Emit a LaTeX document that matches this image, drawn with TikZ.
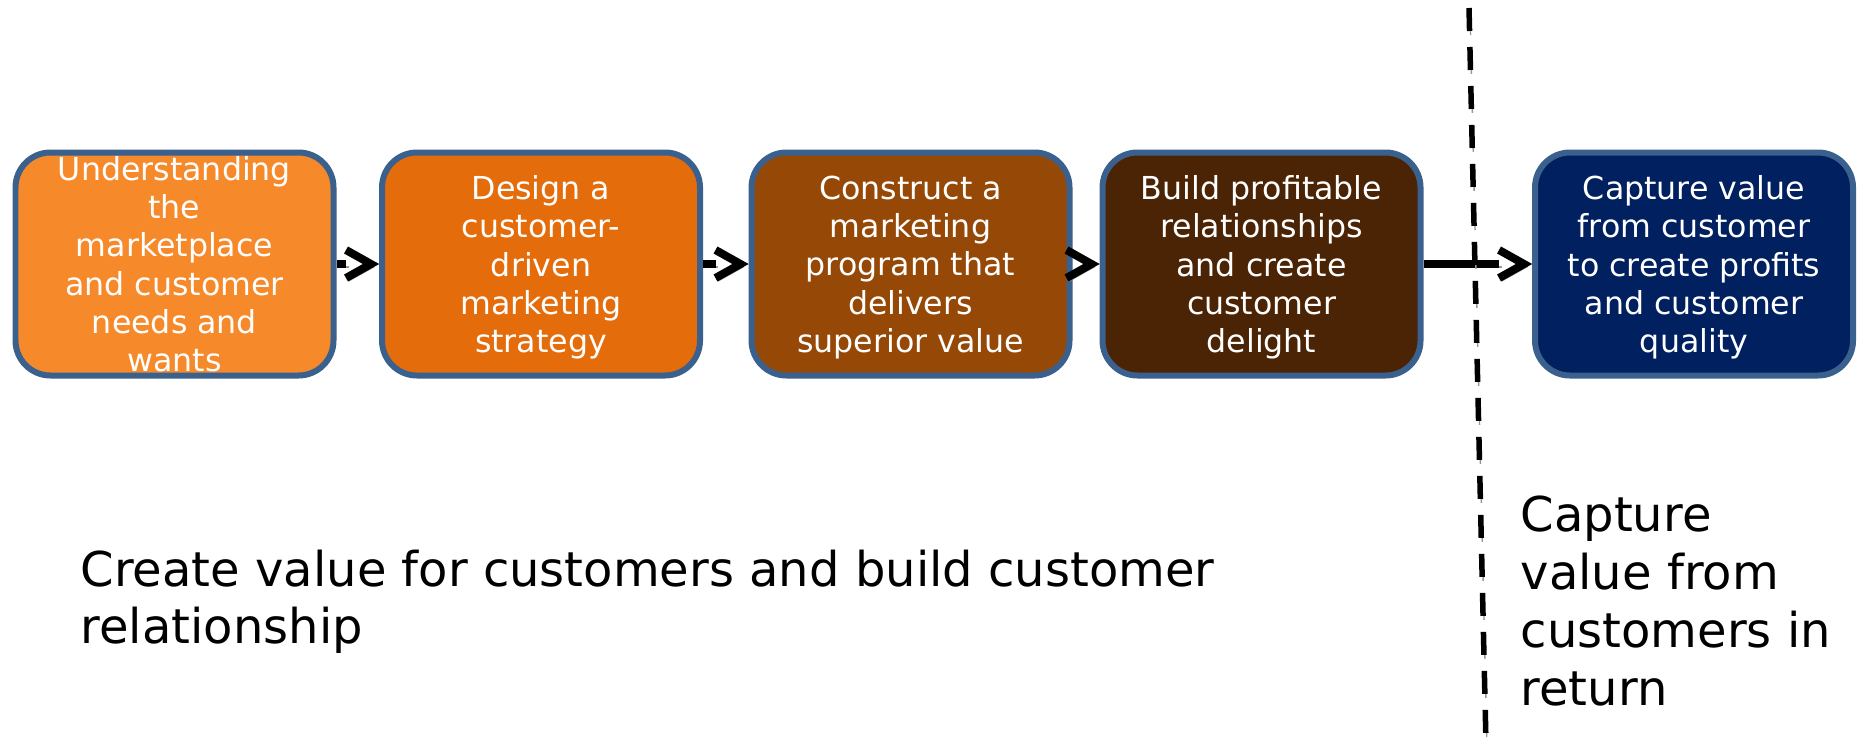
\documentclass[tikz,border=0pt]{standalone}
\usepackage{fontspec}
\setmainfont{DejaVu Sans}
\usepackage{xcolor}
\usepackage{tikz}
\usetikzlibrary{arrows.meta, positioning}
\definecolor{understand}{RGB}{246,137,42}
\definecolor{design}{RGB}{228,108,10}
\definecolor{construct}{RGB}{150,72,6}
\definecolor{build}{RGB}{75,35,5}
\definecolor{capture}{RGB}{0,32,96}
\definecolor{frame}{RGB}{58,96,142}
\definecolor{shadow}{RGB}{150,150,150}

\begin{document}
\begin{tikzpicture}[
    stepbox/.style={rectangle, rounded corners=0.35cm, minimum width=3.18cm, minimum height=2.23cm, text centered, draw=frame, line width=0.06cm, align=center, text=white, inner sep=0pt, text depth=0pt, font=\fontsize{9}{10.9}\selectfont},
    caption/.style={anchor=north west, inner sep=0pt, align=left, font=\fontsize{13.66}{16.2}\selectfont},
    shade/.style={preaction={draw=shadow, transform canvas={xshift=0.025cm, yshift=-0.03cm}}},
    shaft/.style={shade, line width=0.08cm},
    chev/.style={shade, line width=0.08cm, miter limit=4},
    cut/.style={preaction={draw=shadow, dash pattern=on 0.23cm off 0.16cm, transform canvas={xshift=0.01cm, yshift=-0.04cm}}, line width=0.055cm, dash pattern=on 0.23cm off 0.16cm}
]
    \useasboundingbox (0,0) rectangle (18.6,7.44);

    % Process boxes
    \node[stepbox, fill=understand] (market) at (1.745,4.80) {Understanding\\the\\marketplace\\and customer\\needs and\\wants};
    \node[stepbox, fill=design] (strategy) at (5.41,4.80) {Design a\\customer-\\driven\\marketing\\strategy};
    \node[stepbox, fill=construct] (program) at (9.105,4.80) {Construct a\\marketing\\program that\\delivers\\superior value};
    \node[stepbox, fill=build] (relations) at (12.615,4.80) {Build profitable\\relationships\\and create\\customer\\delight};
    \node[stepbox, fill=capture] (profits) at (16.94,4.80) {Capture value\\from customer\\to create profits\\and customer\\quality};

    % Captions
    \node[caption] (create) at (0.80,1.945) {Create value for customers and build customer\\relationship};
    \node[caption, font=\fontsize{13.66}{16.5}\selectfont] (return) at (15.20,2.49) {Capture\\value from\\customers in\\return};

    % Connections
    \draw[shaft] (market.east) -- ([xshift=-0.33cm]strategy.west);
    \draw[shaft] (strategy.east) -- ([xshift=-0.33cm]program.west);
    \draw[shaft] (relations.east) -- ([xshift=-0.33cm]profits.west);
    \foreach \b in {strategy, program, relations, profits}
        \draw[chev] ([xshift=-0.33cm, yshift=0.14cm]\b.west) -- ([xshift=-0.08cm]\b.west) -- ([xshift=-0.33cm, yshift=-0.14cm]\b.west);

    % Divider
    \coordinate (cut top) at (14.69,7.36);
    \coordinate (cut bottom) at (14.86,0);
    \draw[cut] (cut top) -- (cut bottom);
\end{tikzpicture}
\end{document}
